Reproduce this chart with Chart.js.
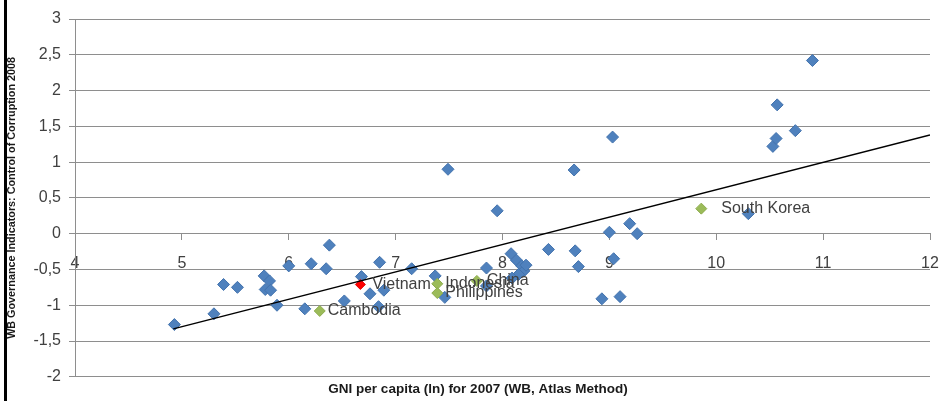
<!DOCTYPE html>
<html>
<head>
<meta charset="utf-8">
<script src="https://cdn.jsdelivr.net/npm/chart.js@4.4.0/dist/chart.umd.min.js"></script>
<style>
  html, body { margin: 0; padding: 0; background: #fff; }
  #wrap { position: relative; width: 941px; height: 401px; }
  #edge { position: absolute; left: 4px; top: 0; width: 3px; height: 401px; background: #000; }
</style>
</head>
<body>
<div id="wrap">
  <canvas id="chart" width="941" height="401"></canvas>
  <div id="edge"></div>
</div>
<script>
// other countries (blue)
const otherX = [4.93, 5.30, 5.39, 5.52, 5.77, 5.82, 5.78, 5.83, 5.89, 6.00, 6.21, 6.35, 6.38, 6.15,
  6.52, 6.68, 6.76, 6.84, 6.85, 6.89, 7.15, 7.37, 7.46, 7.49, 7.85, 7.85, 7.95, 8.08, 8.13, 8.18,
  8.20, 8.15, 8.09, 8.22, 8.43, 8.67, 8.68, 8.71, 8.93, 9.00, 9.03, 9.04, 9.10, 9.19, 9.26,
  10.30, 10.53, 10.56, 10.57, 10.74, 10.90];
const otherY = [-1.27, -1.12, -0.71, -0.75, -0.59, -0.66, -0.78, -0.79, -1.00, -0.45, -0.42, -0.49, -0.16, -1.05,
  -0.94, -0.60, -0.84, -1.02, -0.40, -0.79, -0.49, -0.59, -0.89, 0.90, -0.48, -0.73, 0.32, -0.28, -0.37, -0.45,
  -0.52, -0.57, -0.62, -0.44, -0.22, 0.89, -0.24, -0.46, -0.91, 0.02, 1.35, -0.35, -0.88, 0.14, 0.00,
  0.28, 1.22, 1.33, 1.80, 1.44, 2.42];

// labelled countries
const namedCountries = ["Cambodia", "Indonesia", "Philippines", "China", "South Korea", "Vietnam"];
const namedX = [6.29, 7.39, 7.39, 7.76, 9.86, 6.67];
const namedY = [-1.08, -0.70, -0.83, -0.66, 0.35, -0.71];

// linear trend
const trendX = [4.92, 12];
const trendY = [-1.33, 1.38];

const xTicks = [4, 5, 6, 7, 8, 9, 10, 11, 12];
const yTicks = [-2, -1.5, -1, -0.5, 0, 0.5, 1, 1.5, 2, 2.5, 3];
const yTickLabels = ["-2", "-1,5", "-1", "-0,5", "0", "0,5", "1", "1,5", "2", "2,5", "3"];

const FONT = '"Liberation Sans", Arial, sans-serif';
const labelDx = { "Cambodia": 8, "Indonesia": 8, "Philippines": 8, "China": 10, "South Korea": 20, "Vietnam": 12 };

function pts(xs, ys) {
  return xs.map((v, i) => ({ x: v, y: ys[i] }));
}

const isVietnam = namedCountries.map(n => n === "Vietnam");
const greenX = namedX.filter((v, i) => !isVietnam[i]);
const greenY = namedY.filter((v, i) => !isVietnam[i]);
const redX = namedX.filter((v, i) => isVietnam[i]);
const redY = namedY.filter((v, i) => isVietnam[i]);

const countryLabels = {
  id: "countryLabels",
  afterDatasetsDraw(chart) {
    const { ctx, scales: { x, y } } = chart;
    ctx.save();
    ctx.font = "16px " + FONT;
    ctx.fillStyle = "#404040";
    ctx.textBaseline = "middle";
    ctx.textAlign = "left";
    namedCountries.forEach((name, i) => {
      ctx.fillText(name, x.getPixelForValue(namedX[i]) + labelDx[name], y.getPixelForValue(namedY[i]));
    });
    ctx.restore();
  }
};

new Chart(document.getElementById("chart"), {
  type: "scatter",
  data: {
    datasets: [
      {
        label: "Trend",
        data: pts(trendX, trendY),
        showLine: true,
        borderColor: "#000000",
        borderWidth: 1.5,
        pointRadius: 0
      },
      {
        label: "Vietnam",
        data: pts(redX, redY),
        pointStyle: "rectRot",
        pointRadius: 5,
        backgroundColor: "#ff0000",
        borderColor: "#e00000",
        borderWidth: 1
      },
      {
        label: "Selected",
        data: pts(greenX, greenY),
        pointStyle: "rectRot",
        pointRadius: 5.5,
        backgroundColor: "#9bbb59",
        borderColor: "#8cab4c",
        borderWidth: 1
      },
      {
        label: "Others",
        data: pts(otherX, otherY),
        pointStyle: "rectRot",
        pointRadius: 6,
        backgroundColor: "#4f81bd",
        borderColor: "#4272ad",
        borderWidth: 1
      }
    ]
  },
  options: {
    responsive: false,
    animation: false,
    layout: { padding: { top: 19, right: 11, left: 26, bottom: 0 } },
    plugins: {
      legend: { display: false },
      tooltip: { enabled: false },
      title: {
        display: true,
        position: "bottom",
        text: "GNI per capita (ln) for 2007 (WB, Atlas Method)",
        color: "#1a1a1a",
        font: { family: FONT, size: 13.5, weight: "bold" },
        padding: { top: 4, bottom: 4 }
      }
    },
    scales: {
      x: {
        type: "linear",
        position: { y: 0 },
        min: 4,
        max: 12,
        afterBuildTicks: s => { s.ticks = xTicks.map(v => ({ value: v })); },
        afterFit: s => { s.paddingLeft = 0; s.paddingRight = 0; },
        grid: { drawOnChartArea: false, tickLength: 6, color: "#8e8e8e" },
        border: { color: "#8e8e8e" },
        ticks: { padding: 14, color: "#404040", font: { family: FONT, size: 16 } }
      },
      y: {
        min: -2,
        max: 3,
        afterBuildTicks: s => { s.ticks = yTicks.map(v => ({ value: v })); },
        afterFit: s => { s.width = 49; },
        grid: { color: "#8e8e8e", tickLength: 6 },
        border: { color: "#8e8e8e" },
        ticks: {
          padding: 8,
          color: "#404040",
          font: { family: FONT, size: 16 },
          callback: v => yTickLabels[yTicks.indexOf(v)]
        },
        title: {
          display: true,
          text: "WB Governance Indicators: Control of Corruption 2008",
          color: "#1a1a1a",
          font: { family: FONT, size: 10.8, weight: "bold" },
          padding: { top: -20.5, bottom: 0 }
        }
      }
    }
  },
  plugins: [countryLabels]
});
</script>
</body>
</html>
